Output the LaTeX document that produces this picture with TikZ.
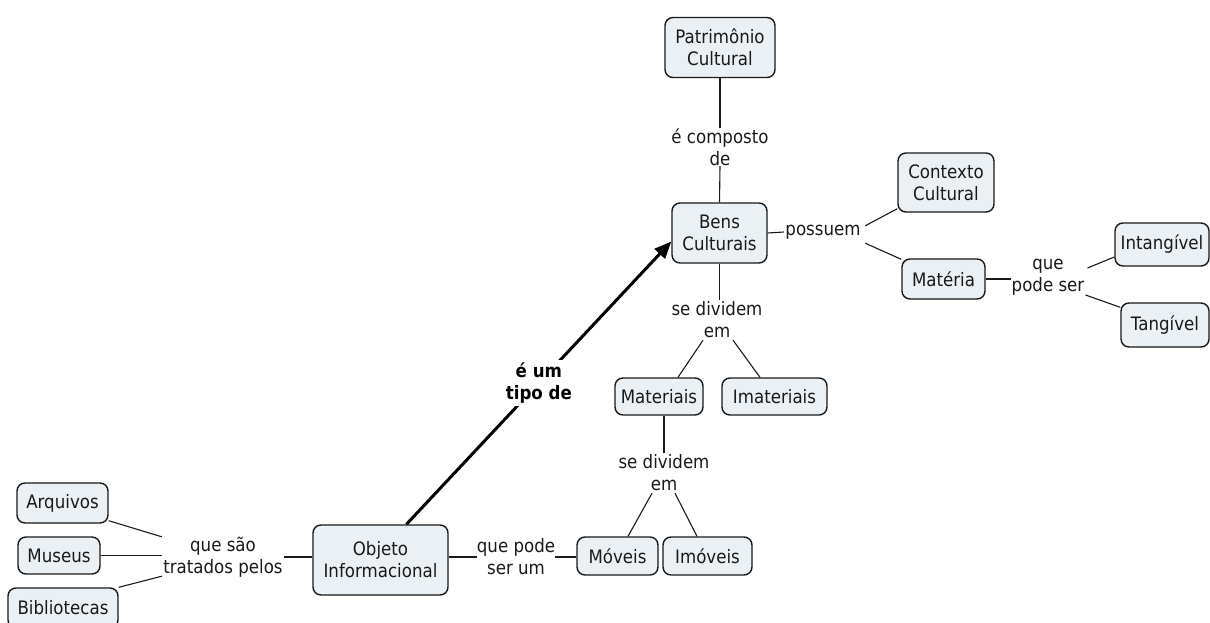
\documentclass[tikz,border=0pt]{standalone}
\usepackage{fontspec}
\setmainfont{DejaVu Sans}[FakeStretch=0.9]
\usetikzlibrary{arrows.meta,backgrounds}
\definecolor{boxfill}{RGB}{234,240,244}
\definecolor{ink}{RGB}{25,25,25}

\begin{document}
\begin{tikzpicture}[x=1pt,y=-1pt,
  concept/.style={draw=ink, line width=1.4pt, rounded corners=8pt, fill=boxfill,
    align=center, inner sep=0pt, text=ink, font=\fontsize{18.5}{22}\selectfont},
  linking/.style={align=center, inner sep=0pt, text=ink,
    font=\fontsize{18.5}{22}\selectfont},
  conn/.style={draw=ink, line width=1.1pt},
  isa/.style={draw=black, line width=3pt, -{Triangle[length=17pt,width=14pt]}}
]
\useasboundingbox (0,0) rectangle (1210,623);

% concepts
\node[concept, minimum width=110pt, minimum height=60pt] (pat) at (720,47.5) {Patrimônio\\Cultural};
\node[concept, minimum width=95pt, minimum height=60pt] (bens) at (719.5,233) {Bens\\Culturais};
\node[concept, minimum width=96pt, minimum height=59pt] (ctx) at (946,182.5) {Contexto\\Cultural};
\node[concept, minimum width=83pt, minimum height=40pt] (mat) at (943.5,279) {Matéria};
\node[concept, minimum width=94pt, minimum height=43pt] (intang) at (1162,244.5) {Intangível};
\node[concept, minimum width=88pt, minimum height=44pt] (tang) at (1165,325) {Tangível};
\node[concept, minimum width=88pt, minimum height=37pt] (materiais) at (659,396.5) {Materiais};
\node[concept, minimum width=105pt, minimum height=37pt] (imat) at (774.5,396.5) {Imateriais};
\node[concept, minimum width=81pt, minimum height=38pt] (moveis) at (617.5,556) {Móveis};
\node[concept, minimum width=89pt, minimum height=38pt] (imoveis) at (707.5,556) {Imóveis};
\node[concept, minimum width=135pt, minimum height=70pt] (objeto) at (380.5,560) {Objeto\\Informacional};
\node[concept, minimum width=91pt, minimum height=40pt] (arq) at (62.5,503) {Arquivos};
\node[concept, minimum width=82pt, minimum height=37pt] (mus) at (59,555.5) {Museus};
\node[concept, minimum width=110pt, minimum height=40pt] (bib) at (63,608) {Bibliotecas};

% linking phrases
\node[linking, minimum width=80pt, minimum height=38pt] (comp) at (720,147) {é composto\\de};
\node[linking, minimum width=84pt, minimum height=22pt] (poss) at (823,232) {possuem};
\node[linking, minimum width=72pt, minimum height=40pt] (qps) at (1048,277) {que\\pode ser};
\node[linking, minimum width=80pt, minimum height=40pt] (sde1) at (717,320) {se dividem\\em};
\node[linking, minimum width=80pt, minimum height=40pt] (sde2) at (664,473) {se dividem\\em};
\node[linking, minimum width=78pt, minimum height=40pt] (qpsu) at (516,557) {que pode\\ser um};
\node[linking, minimum width=122pt, minimum height=42pt] (qst) at (223,557) {que são\\tratados pelos};

\begin{pgfonlayer}{background}
  \draw[conn] (pat.south) -- (comp.north);
  \draw[conn] (comp.south) -- (bens.north);
  \draw[conn] (bens.east) -- ([xshift=3pt]poss.west);
  \draw[conn] ([yshift=-5pt]poss.north east) -- ([yshift=4pt]ctx.south west);
  \draw[conn] (poss.south east) -- (mat.155);
  \draw[conn] (mat.east) -- ([xshift=-1pt]mat.east -| qps.west);
  \draw[conn] ([shift={(3pt,9pt)}]qps.east) -- ([yshift=-12.5pt]intang.west);
  \draw[conn] ([shift={(1pt,-18pt)}]qps.east) -- ([yshift=-5pt]tang.north west);
  \draw[conn] (bens.south) -- (bens.south |- sde1.north);
  \draw[conn] ([xshift=-14pt]sde1.south) -- ([xshift=19pt]materiais.north);
  \draw[conn] ([xshift=16pt]sde1.south) -- ([xshift=-14.5pt]imat.north);
  \draw[conn] (sde2.north |- materiais.south) -- (sde2.north);
  \draw[conn] ([xshift=-12pt]sde2.south) -- ([xshift=10.5pt]moveis.north);
  \draw[conn] ([xshift=11pt]sde2.south) -- ([xshift=-10.5pt]imoveis.north);
  \draw[conn] (qpsu.west -| objeto.east) -- (qpsu.west);
  \draw[conn] (qpsu.east) -- (qpsu.east -| moveis.west);
  \draw[conn] (qst.east -| objeto.west) -- (qst.east);
  \draw[conn] ([yshift=3pt]arq.south east) -- ([yshift=-1pt]qst.north west);
  \draw[conn] (mus.east) -- (mus.east -| qst.west);
  \draw[conn] (bib.north east) -- ([yshift=2pt]qst.south west);
  \draw[isa] (objeto.54) -- node[fill=white, inner sep=3pt, align=center, text=black,
      font=\fontsize{18.5}{22}\selectfont\bfseries] (tipo) {é um\\tipo de} (bens.190);
\end{pgfonlayer}
\end{tikzpicture}
\end{document}
